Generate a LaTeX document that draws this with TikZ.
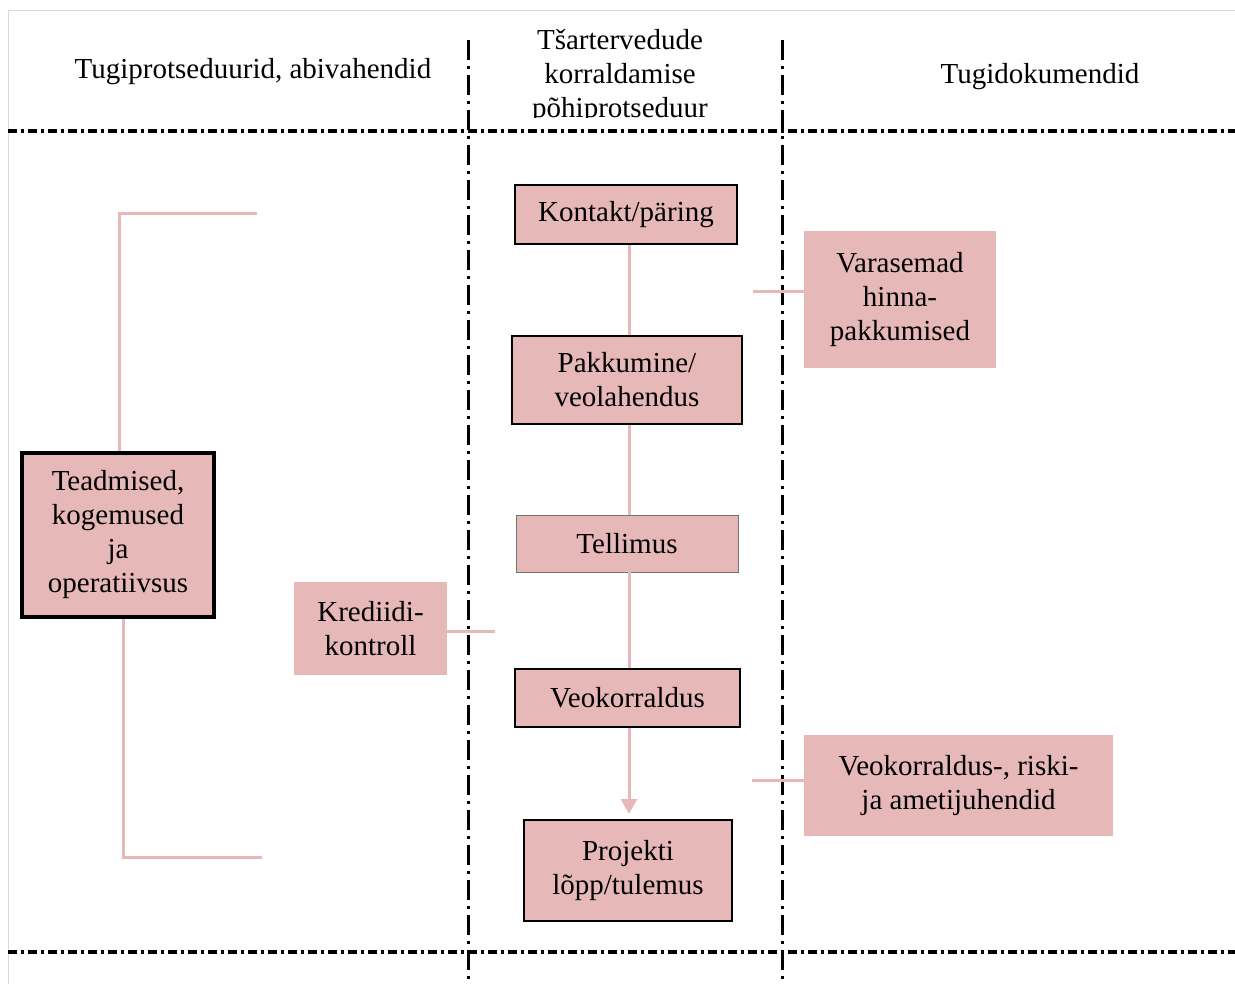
\documentclass[tikz,border=0pt]{standalone}
\usepackage{fontspec}
\setmainfont{Liberation Serif}
\usetikzlibrary{arrows.meta}
\definecolor{boxpink}{HTML}{E6B8B7}
\definecolor{framegray}{HTML}{D9D9D9}
\tikzset{
  txt/.style={font=\fontsize{29}{34}\selectfont, align=center, inner sep=0pt},
  mainbox/.style={txt, fill=boxpink, draw=black, line width=2pt},
  thinbox/.style={txt, fill=boxpink, draw=black!55, line width=0.8pt},
  plainbox/.style={txt, fill=boxpink},
  thickbox/.style={txt, fill=boxpink, draw=black, line width=4pt},
  conn/.style={draw=boxpink, line width=3pt},
  hsep/.style={line width=4pt, dash pattern=on 9pt off 4pt on 3pt off 4pt},
  vsep/.style={line width=3pt, dash pattern=on 20pt off 6pt on 3pt off 6pt},
}
\begin{document}
\begin{tikzpicture}[x=1pt,y=-1pt]
\useasboundingbox (0,0) rectangle (1235,984);
% frame
\draw[framegray, line width=1pt] (8,984) -- (8,11) -- (1235,11);
% headers
\node[txt] (h1) at (253,72) {Tugiprotseduurid, abivahendid};
\begin{scope}
\clip (472,15) rectangle (778,118);
\node[txt, anchor=north] (h2) at (620,29) {Tšartervedude\\korraldamise\\põhiprotseduur};
\end{scope}
\node[txt] (h3) at (1040,77) {Tugidokumendid};
% separators
\draw[hsep] (8,131) -- (1235,131);
\draw[hsep] (8,952) -- (1235,952);
\draw[vsep] (468,40) -- (468,984);
\draw[vsep] (782,40) -- (782,984);
% central boxes
\coordinate (lx) at (629,0);
\node[mainbox, minimum width=222pt, minimum height=59pt] (kontakt) at (626,214.5) {Kontakt/päring};
\node[mainbox, minimum width=230pt, minimum height=88pt] (pakk) at (627,380) {Pakkumine/\\veolahendus};
\node[thinbox, minimum width=222pt, minimum height=57pt] (tell) at (627,543.5) {Tellimus};
\node[mainbox, minimum width=225pt, minimum height=58pt] (veok) at (627.5,698) {Veokorraldus};
\node[mainbox, minimum width=208pt, minimum height=101pt] (proj) at (628,870.5) {Projekti\\lõpp/tulemus};
\draw[conn] (kontakt.south -| lx) -- (pakk.north -| lx);
\draw[conn] (pakk.south -| lx) -- (tell.north -| lx);
\draw[conn] (tell.south -| lx) -- (veok.north -| lx);
\draw[conn, -{Triangle[width=16pt,length=15pt]}, shorten >=5pt] (veok.south -| lx) -- (proj.north -| lx);
% left
\node[thickbox, minimum width=192pt, minimum height=164pt] (tead) at (118,535) {Teadmised,\\kogemused\\ja\\operatiivsus};
\coordinate (bt) at (257,214);
\coordinate (bb) at (262,857);
\draw[conn] ([xshift=1pt]tead.north) |- (bt);
\draw[conn] ([xshift=5pt]tead.south) |- (bb);
\node[plainbox, minimum width=153pt, minimum height=93pt] (kred) at (370.5,628.5) {Krediidi-\\kontroll};
\coordinate (kredend) at (495,631);
\draw[conn] (kred.east |- kredend) -- (kredend);
% right
\node[plainbox, minimum width=192pt, minimum height=137pt] (vara) at (900,299.5) {Varasemad\\hinna-\\pakkumised};
\coordinate (varaend) at (753,292);
\draw[conn] (vara.west |- varaend) -- (varaend);
\node[plainbox, minimum width=309pt, minimum height=101pt] (juh) at (958.5,785.5) {Veokorraldus-, riski-\\ja ametijuhendid};
\coordinate (juhend) at (752,780);
\draw[conn] (juh.west |- juhend) -- (juhend);
\end{tikzpicture}
\end{document}
